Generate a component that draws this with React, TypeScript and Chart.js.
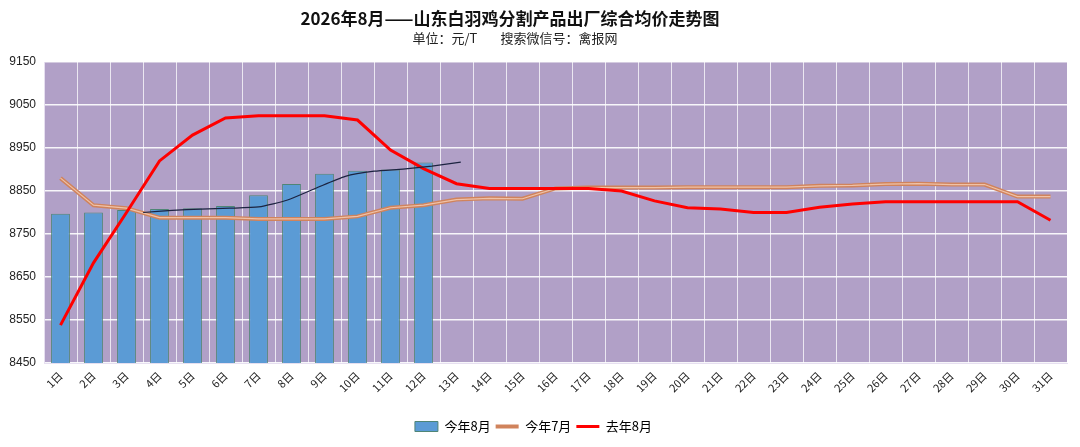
import React, { useEffect, useRef } from "react";
import { Chart, registerables } from "chart.js";

Chart.register(...registerables);

const days = [
  "1日", "2日", "3日", "4日", "5日", "6日", "7日", "8日", "9日", "10日",
  "11日", "12日", "13日", "14日", "15日", "16日", "17日", "18日", "19日", "20日",
  "21日", "22日", "23日", "24日", "25日", "26日", "27日", "28日", "29日", "30日", "31日",
];

const thisAug = [
  8797, 8800, 8806, 8808, 8810, 8815, 8840, 8866, 8890, 8897, 8900, 8916,
  null, null, null, null, null, null, null, null, null, null, null, null,
  null, null, null, null, null, null, null,
];

const thisJul = [
  8880, 8817, 8810, 8788, 8788, 8788, 8785, 8785, 8785, 8791, 8811, 8817,
  8830, 8833, 8832, 8856, 8858, 8858, 8858, 8859, 8859, 8859, 8859, 8862,
  8863, 8866, 8867, 8865, 8865, 8837, 8837,
];

const lastAug = [
  8538, 8683, 8800, 8920, 8980, 9020, 9025, 9025, 9025, 9015, 8945, 8902,
  8867, 8856, 8856, 8856, 8856, 8850, 8827, 8811, 8808, 8800, 8800, 8812,
  8820, 8825, 8825, 8825, 8825, 8825, 8782,
];

const trendX = [1.72, 2.72, 3.72, 4.72, 5.72, 6.72, 7.72, 8.72, 9.72, 10.72, 11.72, 12.72];
const trendY = [8800, 8805, 8808, 8810, 8813, 8829, 8857, 8884, 8896, 8901, 8908, 8917];

const yMin = 8450;
const yMax = 9150;
const yStep = 100;

const titleText = "2026年8月——山东白羽鸡分割产品出厂综合均价走势图";
const unitText = "单位：元/T";
const sourceText = "搜索微信号：禽报网";

const plotBg = {
  id: "plotBg",
  beforeDraw(chart: any) {
    const { ctx, chartArea } = chart;
    if (!chartArea) return;
    ctx.save();
    ctx.fillStyle = "#b1a0c7";
    ctx.fillRect(chartArea.left, chartArea.top, chartArea.right - chartArea.left, chartArea.bottom - chartArea.top);
    ctx.restore();
  },
};

export default function App() {
  const ref = useRef<HTMLCanvasElement | null>(null);

  useEffect(() => {
    document.body.style.margin = "0";
    const canvas = ref.current;
    if (!canvas) return;
    const cjk = "'Noto Sans CJK SC', 'Liberation Sans', sans-serif";
    const chart = new Chart(canvas, {
      type: "bar",
      data: {
        labels: days,
        datasets: [
          {
            type: "bar",
            label: "今年8月",
            data: thisAug,
            backgroundColor: "#5b9bd5",
            borderColor: "#4f8576",
            borderWidth: 1,
            categoryPercentage: 1,
            barPercentage: 0.57,
            grouped: false,
            order: 5,
            pointStyle: "rect",
          } as any,
          {
            type: "line",
            label: "今年7月",
            data: thisJul,
            borderColor: "#d0835c",
            backgroundColor: "#d0835c",
            borderWidth: 4,
            pointRadius: 0,
            tension: 0,
            order: 3,
            pointStyle: "line",
          } as any,
          {
            type: "line",
            label: "去年8月",
            data: lastAug,
            borderColor: "#ff0000",
            backgroundColor: "#ff0000",
            borderWidth: 3,
            pointRadius: 0,
            tension: 0,
            order: 1,
            pointStyle: "line",
          } as any,
          {
            type: "line",
            label: "inner",
            data: thisJul,
            borderColor: "#efc2a8",
            borderWidth: 1.2,
            pointRadius: 0,
            tension: 0,
            order: 2,
          } as any,
          {
            type: "line",
            label: "trend",
            data: trendX.map((x, i) => ({ x, y: trendY[i] })),
            xAxisID: "x2",
            borderColor: "#1c2340",
            borderWidth: 1.2,
            pointRadius: 0,
            tension: 0.2,
            order: 0,
          } as any,
        ],
      },
      options: {
        responsive: false,
        animation: false,
        devicePixelRatio: 1,
        layout: { padding: { left: 0, right: 13, top: 62, bottom: 4 } },
        plugins: {
          title: { display: false },
          tooltip: { enabled: false },
          legend: {
            position: "bottom",
            labels: {
              filter: (item: any) => item.text !== "inner" && item.text !== "trend",
              sort: (a: any, b: any) => a.datasetIndex - b.datasetIndex,
              usePointStyle: true,
              pointStyleWidth: 23,
              boxHeight: 10,
              padding: 5,
              color: "#000",
              font: { family: cjk, size: 13 },
            },
          },
        },
        scales: {
          x: {
            type: "category",
            offset: true,
            grid: { display: true, offset: true, color: "rgba(255,255,255,0.75)", lineWidth: 1, drawTicks: false },
            border: { display: true, color: "#e6dff0", width: 1 },
            ticks: {
              color: "#222",
              font: { family: cjk, size: 11 },
              minRotation: 45,
              maxRotation: 45,
              autoSkip: false,
              padding: 6,
            },
            afterFit: (s: any) => {
              s.height = 52;
            },
          },
          x2: {
            type: "linear",
            display: false,
            min: 0.5,
            max: 31.5,
          },
          y: {
            min: yMin,
            max: yMax,
            grid: { color: "rgba(255,255,255,0.9)", lineWidth: 1.5, drawTicks: false },
            border: { display: true, color: "#e6dff0", width: 1 },
            ticks: {
              stepSize: yStep,
              color: "#222",
              font: { family: "'Liberation Sans', sans-serif", size: 12 },
              padding: 8,
              callback: (v: any) => String(v),
            },
            afterFit: (s: any) => {
              s.width = 44;
            },
          },
        },
      } as any,
      plugins: [plotBg],
    });
    return () => chart.destroy();
  }, []);

  return (
    <div style={{ position: "relative", width: 1080, height: 447, background: "#fff" }}>
      <canvas ref={ref} width={1080} height={447} style={{ position: "absolute", left: 0, top: 0, width: 1080, height: 447 }} />
      <div
        style={{
          position: "absolute",
          left: 0,
          top: 7,
          width: 1020,
          textAlign: "center",
          fontFamily: "'Noto Sans CJK SC', sans-serif",
          fontWeight: 700,
          fontSize: 17,
          lineHeight: "22px",
          color: "#111",
        }}
      >
        {titleText}
      </div>
      <div
        style={{
          position: "absolute",
          left: 0,
          top: 30,
          width: 1030,
          textAlign: "center",
          fontFamily: "'Noto Sans CJK SC', sans-serif",
          fontSize: 13,
          lineHeight: "16px",
          color: "#222",
          whiteSpace: "pre",
        }}
      >
        {unitText + "        " + sourceText}
      </div>
    </div>
  );
}
